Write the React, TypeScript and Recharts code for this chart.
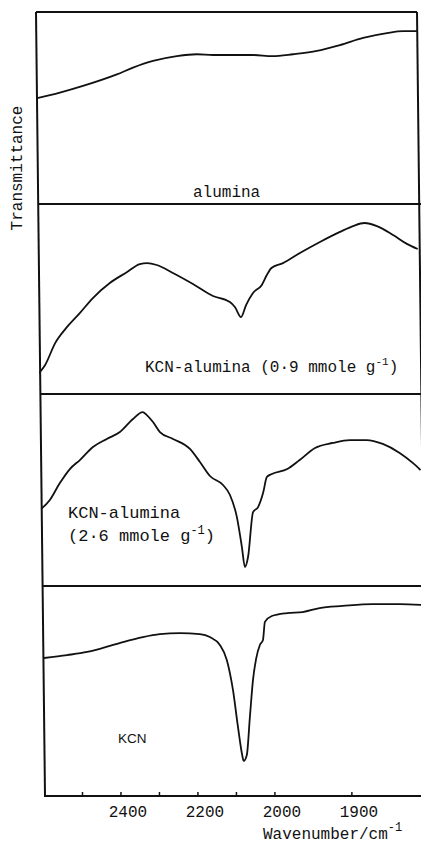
import React from 'react';
import { LineChart, Line, XAxis, YAxis } from 'recharts';

// IR spectra, wavenumber (cm-1) vs relative transmittance (0-100 within each panel)
const aluminaWn = [2600, 2538, 2478, 2390, 2348, 2296, 2234, 2182, 2140, 2088, 2036, 1993, 1966, 1935, 1905, 1875, 1844, 1823, 1805];
const aluminaT = [55, 58, 61.5, 67.5, 71, 74.5, 77, 78, 77.6, 77.6, 77.6, 77, 78, 79.7, 82.8, 86.5, 89, 90, 90];

const kcn09Wn = [2600, 2584, 2558, 2527, 2494, 2460, 2416, 2371, 2338, 2319, 2294, 2252, 2200, 2148, 2104, 2091, 2075, 2062, 2044, 2021, 2008, 1998, 1983, 1961, 1935, 1909, 1892, 1877, 1861, 1840, 1822, 1808];
const kcn09T = [11, 15.3, 26.8, 35.3, 42.6, 50.5, 58.4, 64.2, 68.4, 68.9, 67.9, 63.7, 57.9, 51.6, 48.4, 45.8, 40.5, 46.8, 53.2, 57.4, 62.6, 66.3, 68.9, 74.2, 80, 85.3, 88.4, 90, 88.4, 83.7, 79, 76.3];

const kcn26Wn = [2600, 2577, 2551, 2525, 2499, 2465, 2429, 2395, 2361, 2336, 2325, 2309, 2291, 2257, 2213, 2187, 2161, 2127, 2109, 2091, 2078, 2070, 2062, 2049, 2036, 2023, 2013, 2000, 1980, 1964, 1944, 1921, 1899, 1877, 1856, 1834, 1817, 1807];
const kcn26T = [40, 44.8, 53.6, 60.9, 65.6, 72.4, 76.6, 80.2, 87, 90.6, 89, 85.4, 80.2, 76.6, 71.4, 64.6, 57.3, 52.6, 47.4, 35.9, 20.3, 9.9, 15.1, 38.5, 41.1, 48.4, 56.8, 58.3, 60.9, 65.6, 71.9, 74.5, 76, 76, 74, 69.3, 64.1, 60.4];

const kcnWn = [2600, 2540, 2488, 2447, 2395, 2343, 2299, 2247, 2195, 2169, 2143, 2125, 2109, 2096, 2086, 2081, 2073, 2065, 2057, 2049, 2039, 2031, 2026, 2008, 1984, 1964, 1942, 1912, 1873, 1838, 1810];
const kcnT = [65.7, 67.1, 68.6, 70.5, 73.3, 75.7, 77.1, 77.6, 77.1, 75.7, 71.9, 64.8, 50.5, 32.9, 20.5, 16.7, 19.5, 37.6, 55.2, 65.2, 71.9, 74.3, 82.9, 85.7, 87.1, 87.6, 89.5, 90.5, 91.4, 91.4, 91];

const tickWavenumbers = [2500, 2400, 2300, 2200, 2100, 2000, 1900];
const labelledTicks = [2400, 2200, 2000, 1900];

// the spectrometer doubles its abscissa scale below 2000 cm-1
const toAxis = (w: number) => (w >= 2000 ? 2600 - w : 600 + (2000 - w) * 2);
const fromAxis = (u: number) => (u <= 600 ? 2600 - u : 2000 - (u - 600) / 2);

const build = (wn: number[], t: number[]) => wn.map((w, i) => ({ u: toAxis(w), t: t[i] }));

const PLOT_W = 381;
const INK = '#111';
const MONO = '"Liberation Mono", "DejaVu Sans Mono", monospace';

// the scanned figure is slightly skewed, so each strip sits a little further right
const panels = [
  { key: 'alumina', data: build(aluminaWn, aluminaT), left: 36, top: 12, height: 192 },
  { key: 'kcn09', data: build(kcn09Wn, kcn09T), left: 39, top: 204, height: 190 },
  { key: 'kcn26', data: build(kcn26Wn, kcn26T), left: 41, top: 394, height: 192 },
  { key: 'kcn', data: build(kcnWn, kcnT), left: 44, top: 586, height: 210 },
];

const FRAME_TOP = 12;
const FRAME_BOTTOM = 796;
const leftEdge = (y: number) => 36 + ((y - FRAME_TOP) * 9) / (FRAME_BOTTOM - FRAME_TOP);
const rightEdge = (y: number) => 417 + ((y - FRAME_TOP) * 9) / (FRAME_BOTTOM - FRAME_TOP);

const WaveTick = (props: any) => {
  const { x, y, payload } = props;
  const w = Math.round(fromAxis(payload.value));
  return (
    <g>
      <line x1={x} x2={x} y1={y} y2={y - 4} stroke={INK} strokeWidth={1.5} />
      {labelledTicks.includes(w) && (
        <text x={x + 7} y={y + 21} textAnchor="middle" fontFamily={MONO} fontSize={16} fill={INK}>
          {w}
        </text>
      )}
    </g>
  );
};

export default function App() {
  return (
    <div style={{ position: 'absolute', left: 0, top: 0, width: 421, height: 844, overflow: 'hidden', background: '#fff' }}>
      {panels.map((p, i) => {
        const last = i === panels.length - 1;
        return (
          <div key={p.key} style={{ position: 'absolute', left: p.left, top: p.top }}>
            <LineChart
              width={PLOT_W}
              height={p.height + (last ? 48 : 0)}
              data={p.data}
              margin={{ top: 0, right: 0, bottom: 0, left: 0 }}
            >
              <XAxis
                type="number"
                dataKey="u"
                domain={[0, 990]}
                allowDataOverflow
                hide={!last}
                height={48}
                ticks={tickWavenumbers.map(toAxis)}
                interval={0}
                axisLine={{ stroke: INK, strokeWidth: 2 }}
                tickLine={false}
                tickSize={0}
                tickMargin={0}
                tick={<WaveTick />}
              />
              <YAxis type="number" domain={[0, 100]} hide />
              <Line
                dataKey="t"
                type="monotone"
                stroke={INK}
                strokeWidth={1.8}
                dot={false}
                isAnimationActive={false}
              />
            </LineChart>
          </div>
        );
      })}
      <svg width={421} height={844} style={{ position: 'absolute', left: 0, top: 0, pointerEvents: 'none' }}>
        <g stroke={INK} strokeWidth={2} fill="none">
          <line x1={leftEdge(FRAME_TOP)} y1={FRAME_TOP} x2={leftEdge(FRAME_BOTTOM)} y2={FRAME_BOTTOM} />
          <line x1={rightEdge(FRAME_TOP)} y1={FRAME_TOP} x2={rightEdge(FRAME_BOTTOM)} y2={FRAME_BOTTOM} />
          <line x1={leftEdge(FRAME_TOP)} y1={FRAME_TOP} x2={rightEdge(FRAME_TOP)} y2={FRAME_TOP} />
          {panels.slice(1).map((p) => (
            <line key={p.key} x1={leftEdge(p.top)} y1={p.top} x2={421} y2={p.top} />
          ))}
        </g>
        <g fontFamily={MONO} fill={INK} fontSize={16}>
          <text x={22} y={168} textAnchor="middle" transform="rotate(-90 22 168)">
            Transmittance
          </text>
          <text x={193} y={197}>alumina</text>
          <text x={145} y={372}>
            KCN-alumina (0·9 mmole g
            <tspan fontSize={11} dy={-7}>-1</tspan>
            <tspan dy={7}>)</tspan>
          </text>
          <text x={68} y={518} fontSize={17}>KCN-alumina</text>
          <text x={68} y={541} fontSize={17}>
            (2·6 mmole g
            <tspan fontSize={12} dy={-7}>-1</tspan>
            <tspan dy={7}>)</tspan>
          </text>
          <text x={118} y={743} fontFamily='"Liberation Sans", Arial, sans-serif' fontSize={13.5}>
            KCN
          </text>
          <text x={263} y={839}>
            Wavenumber/cm
            <tspan fontSize={12} dy={-8}>-1</tspan>
          </text>
        </g>
      </svg>
    </div>
  );
}
